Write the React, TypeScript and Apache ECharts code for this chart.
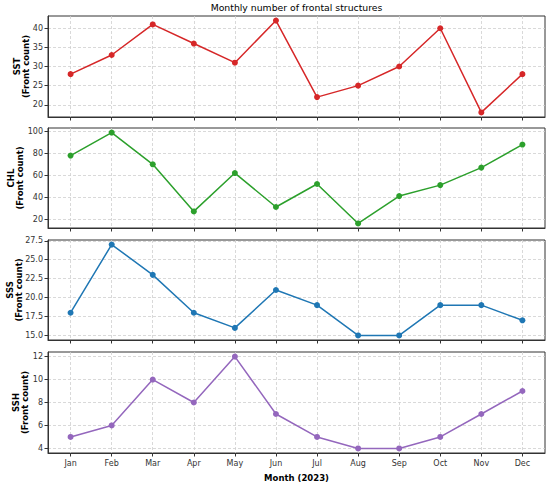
import React, { useEffect, useRef } from "react";
import * as echarts from "echarts";

const months = ["Jan", "Feb", "Mar", "Apr", "May", "Jun", "Jul", "Aug", "Sep", "Oct", "Nov", "Dec"];
const sstCounts = [28, 33, 41, 36, 31, 42, 22, 25, 30, 40, 18, 28];
const chlCounts = [78, 99, 70, 27, 62, 31, 52, 16, 41, 51, 67, 88];
const sssCounts = [18, 27, 23, 18, 16, 21, 19, 15, 15, 19, 19, 17];
const sshCounts = [5, 6, 10, 8, 12, 7, 5, 4, 4, 5, 7, 9];

const sstTicks = [20, 25, 30, 35, 40];
const chlTicks = [20, 40, 60, 80, 100];
const sssTicks = [15, 17.5, 20, 22.5, 25, 27.5];
const sshTicks = [4, 6, 8, 10, 12];

const panelNames = ["SST", "CHL", "SSS", "SSH"];
const panelColors = ["#d62728", "#2ca02c", "#1f77b4", "#9467bd"];
const titleText = "Monthly number of frontal structures";
const xTitle = "Month (2023)";

export default function App() {
  const ref = useRef<HTMLDivElement>(null);
  useEffect(() => {
    if (!ref.current) return;
    const chart = echarts.init(ref.current, null, { renderer: "svg" });
    const values = [sstCounts, chlCounts, sssCounts, sshCounts];
    const ticks = [sstTicks, chlTicks, sssTicks, sshTicks];
    const decimals = [0, 0, 1, 0];
    const tops = [16, 128, 240, 352];
    const heights = [101, 100, 100, 101];
    const nameGaps = [17, 23, 24, 18];
    const font = "DejaVu Sans";
    const gridLine = { show: true, lineStyle: { color: "#cfcfcf", type: [3, 2], width: 0.8 } };

    const grids = tops.map((t, i) => ({
      left: 48,
      right: 5,
      top: t,
      height: heights[i],
      show: true,
      borderColor: "#333",
      borderWidth: 1,
      backgroundColor: "transparent",
      containLabel: false,
      outerBoundsMode: "none",
    }));

    const xAxes = tops.map((_, i) => ({
      type: "value",
      gridIndex: i,
      min: -0.55,
      max: 11.55,
      axisLine: { show: true, onZero: false, lineStyle: { color: "#333", width: 1 } },
      axisTick: {
        show: true,
        length: 3.5,
        lineStyle: { color: "#333", width: 1 },
        customValues: months.map((_, k) => k),
      },
      axisLabel: {
        show: i === 3,
        margin: 6,
        color: "#333",
        fontFamily: font,
        fontSize: 8,
        customValues: months.map((_, k) => k),
        formatter: (v: number) => months[Math.round(v)] ?? "",
      },
      splitLine: gridLine,
      name: i === 3 ? xTitle : "",
      nameLocation: "middle",
      nameGap: 20,
      nameMoveOverlap: false,
      nameTextStyle: { fontFamily: font, fontSize: 8.5, fontWeight: "bold", color: "#000" },
    }));

    const yAxes = values.map((vals, i) => {
      const lo = Math.min(...vals);
      const hi = Math.max(...vals);
      const pad = (hi - lo) * 0.05;
      return {
        type: "value",
        gridIndex: i,
        min: lo - pad,
        max: hi + pad,
        axisLine: { show: true, onZero: false, lineStyle: { color: "#333", width: 1 } },
        axisTick: { show: true, length: 3.5, lineStyle: { color: "#333", width: 1 }, customValues: ticks[i] },
        axisLabel: {
          margin: 5,
          color: "#333",
          fontFamily: font,
          fontSize: 8,
          customValues: ticks[i],
          formatter: (v: number) => v.toFixed(decimals[i]),
        },
        splitLine: gridLine,
        name: panelNames[i] + "\n(Front count)",
        nameLocation: "middle",
        nameRotate: 90,
        nameGap: nameGaps[i],
        nameMoveOverlap: false,
        nameTextStyle: { fontFamily: font, fontSize: 8.5, fontWeight: "bold", color: "#000", lineHeight: 9.5, align: "center" },
      };
    });

    const series = values.map((vals, i) => ({
      type: "line",
      xAxisIndex: i,
      yAxisIndex: i,
      data: vals.map((v, k) => [k, v]),
      symbol: "circle",
      symbolSize: 6,
      lineStyle: { color: panelColors[i], width: 1.5 },
      itemStyle: { color: panelColors[i] },
      z: 5,
    }));

    chart.setOption({
      animation: false,
      backgroundColor: "#fff",
      title: {
        text: titleText,
        left: 296.5,
        textAlign: "center",
        top: 3,
        padding: 0,
        textStyle: { fontFamily: font, fontSize: 9.3, fontWeight: "normal", color: "#000" },
      },
      grid: grids,
      xAxis: xAxes,
      yAxis: yAxes,
      series,
    });
    return () => chart.dispose();
  }, []);
  return <div ref={ref} style={{ position: "absolute", left: 0, top: 0, width: 550, height: 485 }} />;
}
